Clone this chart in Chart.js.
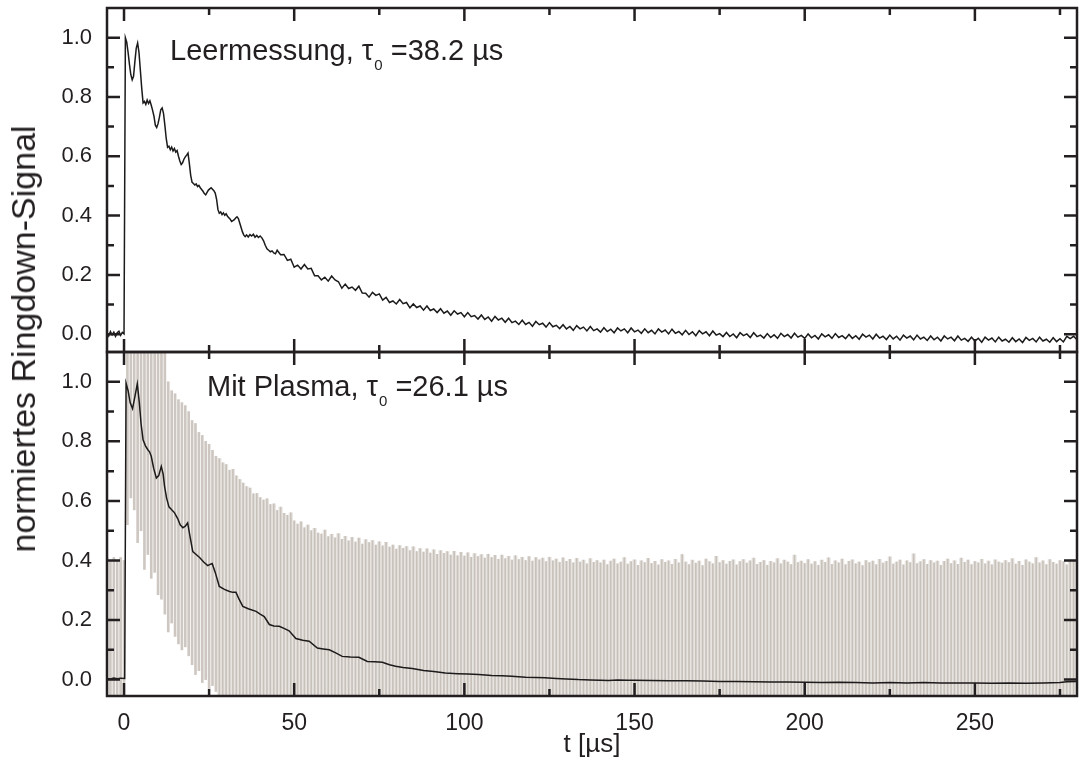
<!DOCTYPE html>
<html>
<head>
<meta charset="utf-8">
<script src="https://cdn.jsdelivr.net/npm/chart.js@4.4.1/dist/chart.umd.min.js"></script>
<style>
  body { margin: 0; background: #fff; }
  #wrap { position: relative; width: 1079px; height: 767px; }
  .note { position: absolute; font-family: 'Liberation Sans', Arial, sans-serif; font-size: 29px; line-height: 29px; color: #231f20; white-space: nowrap; }
  .sub { font-size: 15px; position: relative; top: 10px; margin-left: 1px; }
  #ytitle { position: absolute; left: 23px; top: 339px; transform: translate(-50%, -50%) rotate(-90deg); font-family: 'Liberation Sans', Arial, sans-serif; font-size: 34px; line-height: 34px; color: #231f20; white-space: nowrap; }
</style>
</head>
<body>
<div id="wrap">
  <canvas id="ringdown" width="1079" height="767"></canvas>
  <div class="note" style="left:170px; top:36px;">Leermessung, τ<span class="sub">0</span> =38.2 µs</div>
  <div class="note" style="left:207px; top:372px;">Mit Plasma, τ<span class="sub">0</span> =26.1 µs</div>
  <div id="ytitle">normiertes Ringdown-Signal</div>
</div>
<script>
// axis ticks
const xMajor = [0, 50, 100, 150, 200, 250];
const xMinor = [25, 75, 125, 175, 225, 275];
const yMajor = [0, 0.2, 0.4, 0.6, 0.8, 1.0];
const yMinor = [0.1, 0.3, 0.5, 0.7, 0.9];

// top panel: empty cavity (Leermessung)
const topEarlyTime = [-5, -4.5, -4, -3.5, -3, -2.5, -2, -1.5, -1, -0.5, 0,
  0.4, 0.8, 1.2, 1.6, 2.0, 2.4, 2.8, 3.2, 3.6, 4.0, 4.4, 4.8, 5.2, 5.6,
  6.0, 6.4, 6.8, 7.2, 7.6, 8.0, 8.4, 8.8, 9.2, 9.6, 10.0, 10.4, 10.8, 11.2, 11.6,
  12.0, 12.4, 12.8, 13.2, 13.6, 14.0, 14.4, 14.8, 15.2, 15.6, 16.0, 16.4, 16.8, 17.2, 17.6,
  18.0, 18.4, 18.8, 19.2, 19.6, 20.0, 20.4, 20.8, 21.2, 21.6, 22.0, 22.4, 22.8, 23.2, 23.6,
  24.0, 24.4, 24.8, 25.2, 25.6, 26.0, 26.4, 26.8, 27.2, 27.6, 28.0, 28.4, 28.8, 29.2, 29.6,
  30.0, 30.4, 30.8, 31.2, 31.6, 32.0, 32.4, 32.8, 33.2, 33.6, 34.0, 34.4, 34.8, 35.2, 35.6,
  36.0, 36.5, 37.0, 37.5, 38.0, 38.5, 39.0, 39.5, 40.0, 40.5, 41.0, 41.5, 42.0, 42.5, 43.0, 43.5, 44.0, 44.5];
const topEarlySignal = [0.004, -0.006, 0.009, -0.002, 0.007, -0.007, 0.005, 0.010, -0.004, 0.006, 0.001,
  1.0, 0.985, 0.95, 0.91, 0.875, 0.858, 0.87, 0.92, 0.965, 0.982, 0.95, 0.89, 0.83, 0.78,
  0.785, 0.775, 0.79, 0.778, 0.787, 0.772, 0.755, 0.735, 0.705, 0.697, 0.71, 0.732, 0.757, 0.763, 0.745,
  0.705, 0.66, 0.63, 0.634, 0.622, 0.631, 0.618, 0.626, 0.614, 0.619, 0.60, 0.584, 0.572, 0.578, 0.59,
  0.598, 0.604, 0.611, 0.575, 0.535, 0.512, 0.508, 0.503, 0.507, 0.498, 0.502, 0.494, 0.488, 0.482, 0.474,
  0.47, 0.478, 0.486, 0.49, 0.494, 0.489, 0.484, 0.476, 0.455, 0.42, 0.408, 0.412, 0.403, 0.409, 0.401,
  0.406, 0.398, 0.393, 0.388, 0.38, 0.383, 0.386, 0.392, 0.396, 0.39, 0.375, 0.36, 0.345, 0.334, 0.329,
  0.335, 0.328, 0.336, 0.331, 0.337, 0.327, 0.333, 0.326, 0.331, 0.325, 0.315, 0.30, 0.288, 0.283, 0.278, 0.281, 0.274, 0.271];
const topLateStart = 45; // one sample per µs from here on
const topLateSignal = [
  0.283, 0.268, 0.269, 0.249, 0.253, 0.226, 0.233, 0.220, 0.235, 0.220, 0.222, 0.197, 0.197, 0.183, 0.192,
  0.179, 0.196, 0.183, 0.177, 0.155, 0.169, 0.154, 0.159, 0.148, 0.162, 0.139, 0.138, 0.125, 0.141, 0.131,
  0.136, 0.115, 0.124, 0.107, 0.112, 0.102, 0.117, 0.103, 0.107, 0.089, 0.102, 0.090, 0.095, 0.081, 0.095,
  0.080, 0.085, 0.073, 0.086, 0.071, 0.078, 0.064, 0.079, 0.068, 0.073, 0.059, 0.073, 0.059, 0.063, 0.051,
  0.065, 0.050, 0.058, 0.044, 0.060, 0.048, 0.054, 0.040, 0.054, 0.039, 0.044, 0.033, 0.047, 0.033, 0.040,
  0.027, 0.043, 0.032, 0.037, 0.024, 0.039, 0.025, 0.030, 0.019, 0.032, 0.018, 0.026, 0.013, 0.029, 0.018,
  0.024, 0.011, 0.026, 0.012, 0.018, 0.007, 0.022, 0.009, 0.017, 0.005, 0.021, 0.011, 0.018, 0.005, 0.021,
  0.008, 0.014, 0.003, 0.018, 0.005, 0.013, 0.001, 0.018, 0.007, 0.014, 0.001, 0.017, 0.003, 0.009, -0.002,
  0.013, -0.001, 0.008, -0.005, 0.012, 0.001, 0.008, -0.005, 0.011, -0.003, 0.002, -0.008, 0.006, -0.008, 0.001,
  -0.012, 0.005, -0.005, 0.001, -0.011, 0.005, -0.008, -0.003, -0.013, 0.002, -0.011, -0.002, -0.014, 0.003, -0.008,
  -0.001, -0.013, 0.003, -0.010, -0.004, -0.014, 0.001, -0.012, -0.004, -0.016, 0.001, -0.009, -0.002, -0.014, 0.002,
  -0.011, -0.005, -0.015, -0.001, -0.014, -0.005, -0.017, 0.000, -0.010, -0.003, -0.016, 0.000, -0.013, -0.007, -0.018,
  -0.003, -0.016, -0.007, -0.020, -0.003, -0.013, -0.006, -0.019, -0.003, -0.016, -0.010, -0.021, -0.006, -0.019, -0.010,
  -0.023, -0.006, -0.016, -0.010, -0.022, -0.006, -0.020, -0.014, -0.024, -0.010, -0.023, -0.014, -0.027, -0.010, -0.020,
  -0.013, -0.026, -0.010, -0.023, -0.017, -0.027, -0.012, -0.025, -0.016, -0.028, -0.011, -0.021, -0.014, -0.026, -0.010,
  -0.023, -0.017, -0.027, -0.012, -0.025, -0.015, -0.026, -0.007, -0.015, -0.007, -0.019];

// bottom panel: with plasma, black = averaged ringdown
const botTime = [-5, -4, -3, -2, -1, 0.2, 0.6, 1.2, 1.8, 2.5, 3.2, 3.9, 4.5, 5.0, 5.6, 6.3, 7.0, 7.5, 8.0, 8.7,
  9.5, 10.2, 10.95, 11.5, 11.9, 12.5, 13.2, 14.0, 14.85, 15.8, 16.5, 17.3, 18.0, 18.7, 19.4, 20.2, 21.2, 22.2, 23.4, 24.6,
  25.3, 25.9, 26.8, 28.0, 29.5, 31.0, 32.0, 32.9, 33.8, 34.9, 36.5, 38.8, 40.0, 41.2, 42.7, 44.0, 45.6, 47.0, 48.5, 50.5,
  52.5, 54.4, 56.8, 58.5, 60.3, 62.2, 64.1, 66.5, 69.0, 71.5, 73.7, 75.9, 78.0, 79.8, 82.0, 84.7, 88.0, 91.0, 94.4, 98.0,
  101.0, 104.2, 108.0, 111.0, 113.9, 118.0, 121.0, 123.7, 127.0, 130.0, 133.5, 137.0, 140.0, 142.3, 145, 148, 150, 155, 160, 165,
  170, 175, 180, 185, 190, 195, 200, 205, 210, 215, 220, 225, 230, 235, 240, 245, 250, 255, 260, 265, 270, 275, 277, 280];
const botSignal = [0.004, 0.002, 0.005, 0.003, 0.005, 0.004, 0.995, 0.97, 0.93, 0.91, 0.95, 0.993, 0.93, 0.86, 0.805, 0.785, 0.772, 0.765, 0.75, 0.71,
  0.677, 0.685, 0.716, 0.69, 0.65, 0.61, 0.58, 0.57, 0.56, 0.54, 0.52, 0.51, 0.515, 0.526, 0.48, 0.43, 0.42, 0.41, 0.395, 0.383,
  0.387, 0.39, 0.36, 0.313, 0.303, 0.296, 0.293, 0.293, 0.27, 0.246, 0.238, 0.229, 0.22, 0.212, 0.185, 0.18, 0.179, 0.172, 0.164, 0.138,
  0.132, 0.129, 0.106, 0.103, 0.10, 0.09, 0.078, 0.076, 0.075, 0.061, 0.06, 0.058, 0.05, 0.045, 0.041, 0.037, 0.031, 0.027, 0.022, 0.02,
  0.019, 0.017, 0.014, 0.013, 0.011, 0.008, 0.007, 0.006, 0.004, 0.002, 0.0, -0.001, -0.002, -0.003, -0.001, -0.002, -0.002, -0.003, -0.004, -0.004,
  -0.005, -0.006, -0.006, -0.007, -0.008, -0.008, -0.009, -0.01, -0.009, -0.01, -0.011, -0.01, -0.011, -0.01, -0.011, -0.011, -0.011, -0.012, -0.011, -0.012,
  -0.011, -0.01, -0.007, -0.006];

// bottom panel: raw oscillating signal (grey), one stroke per µs
const plasmaEarlyTime = [-5, -4, -3, -2, -1, 0, 1, 2, 3, 4, 5, 6, 7, 8, 9, 10, 11, 12, 13, 14, 15, 16, 17, 18, 19, 20, 21, 22, 23, 24, 25, 26, 27];
const plasmaEarlyLow = [-0.055, -0.055, -0.055, -0.055, -0.055, -0.055, 0.52, 0.61, 0.57, 0.46, 0.50, 0.37, 0.42, 0.34, 0.36, 0.285, 0.27,
  0.22, 0.16, 0.19, 0.145, 0.12, 0.10, 0.11, 0.08, 0.05, 0.017, 0.03, -0.01, 0.0, -0.03, -0.02, -0.04];
const plasmaEarlyHigh = [0.41, 0.40, 0.41, 0.40, 0.41, 0.40, 1.1, 1.1, 1.1, 1.1, 1.1, 1.1, 1.1, 1.1, 1.1, 1.1, 1.1,
  1.1, 1.0, 0.97, 0.96, 0.94, 0.93, 0.92, 0.90, 0.87, 0.86, 0.83, 0.82, 0.80, 0.79, 0.77, 0.75];
const plasmaLateStart = 28;
const plasmaLateHigh = [
  0.742, 0.728, 0.722, 0.703, 0.706, 0.684, 0.672, 0.660, 0.648, 0.643, 0.624, 0.625, 0.611, 0.603, 0.607, 0.588, 0.590, 0.568, 0.579, 0.558,
  0.552, 0.560, 0.533, 0.522, 0.530, 0.510, 0.519, 0.500, 0.508, 0.492, 0.489, 0.502, 0.480, 0.488, 0.476, 0.490, 0.471, 0.481, 0.466, 0.478,
  0.462, 0.475, 0.455, 0.470, 0.460, 0.467, 0.452, 0.463, 0.449, 0.461, 0.445, 0.452, 0.438, 0.450, 0.441, 0.447, 0.433, 0.446, 0.430, 0.440,
  0.428, 0.439, 0.425, 0.436, 0.421, 0.433, 0.424, 0.430, 0.418, 0.431, 0.416, 0.427, 0.415, 0.426, 0.411, 0.423, 0.413, 0.420, 0.408, 0.421,
  0.410, 0.417, 0.404, 0.418, 0.406, 0.414, 0.401, 0.416, 0.403, 0.411, 0.400, 0.413, 0.398, 0.410, 0.402, 0.408, 0.396, 0.411, 0.399, 0.405,
  0.394, 0.409, 0.397, 0.404, 0.392, 0.407, 0.395, 0.401, 0.389, 0.406, 0.394, 0.400,
  0.392, 0.401, 0.386, 0.398, 0.405, 0.389, 0.395, 0.410, 0.388, 0.396, 0.402, 0.384, 0.399, 0.393, 0.407, 0.390, 0.397, 0.385, 0.403, 0.394,
  0.399, 0.387, 0.404, 0.392, 0.420, 0.395, 0.386, 0.401, 0.391, 0.398, 0.383, 0.405, 0.396, 0.389, 0.414, 0.393, 0.400, 0.388, 0.397, 0.402,
  0.385, 0.396, 0.403, 0.391, 0.399, 0.408, 0.387, 0.394, 0.400, 0.384, 0.397, 0.392, 0.406, 0.389, 0.401, 0.395, 0.386, 0.418, 0.393, 0.398,
  0.390, 0.403, 0.388, 0.396, 0.384, 0.401, 0.394, 0.409, 0.387, 0.399, 0.392, 0.405, 0.386, 0.397, 0.402, 0.389, 0.395, 0.383, 0.400, 0.393,
  0.398, 0.386, 0.404, 0.391, 0.397, 0.412, 0.388, 0.395, 0.401, 0.385, 0.399, 0.393, 0.422, 0.390, 0.396, 0.403, 0.387, 0.400, 0.392, 0.398,
  0.384, 0.397, 0.405, 0.390, 0.399, 0.387, 0.408, 0.394, 0.401, 0.386, 0.396, 0.392, 0.404, 0.389, 0.398, 0.385, 0.402, 0.395, 0.391, 0.400,
  0.393, 0.406, 0.388, 0.397, 0.384, 0.402, 0.395, 0.389, 0.410, 0.392, 0.399, 0.386, 0.403, 0.394, 0.388, 0.400, 0.396, 0.385, 0.401, 0.398];

const ink = '#231f20';
const topMin = -0.06, botMin = -0.055, yMax = 1.1;

const topPoints = topEarlyTime.map((t, i) => ({ x: t, y: topEarlySignal[i] }))
  .concat(topLateSignal.map((v, i) => ({ x: topLateStart + i, y: v })));
const botPoints = botTime.map((t, i) => ({ x: t, y: botSignal[i] }));
const earlyBars = plasmaEarlyTime.map((t, i) => ({ x: t, y: [plasmaEarlyLow[i], plasmaEarlyHigh[i]] }));
const lateBars = plasmaLateHigh.map((v, i) => ({ x: plasmaLateStart + i, y: v }));

// frame and inward ticks on all four sides of each panel
const frameTicks = {
  id: 'frameTicks',
  afterDatasetsDraw(chart) {
    const ctx = chart.ctx, xs = chart.scales.x, a = chart.chartArea;
    ctx.save();
    ctx.strokeStyle = ink;
    ctx.lineWidth = 2.5;
    ['yTop', 'yBot'].forEach(id => {
      const ys = chart.scales[id];
      ctx.strokeRect(a.left, ys.top, a.right - a.left, ys.bottom - ys.top);
      ctx.beginPath();
      xs.ticks.forEach(t => {
        const px = xs.getPixelForValue(t.value);
        const len = xMajor.includes(t.value) ? 13 : 7;
        ctx.moveTo(px, ys.top); ctx.lineTo(px, ys.top + len);
        ctx.moveTo(px, ys.bottom); ctx.lineTo(px, ys.bottom - len);
      });
      ys.ticks.forEach(t => {
        const py = ys.getPixelForValue(t.value);
        const len = yMajor.includes(t.value) ? 13 : 7;
        ctx.moveTo(a.left, py); ctx.lineTo(a.left + len, py);
        ctx.moveTo(a.right, py); ctx.lineTo(a.right - len, py);
      });
      ctx.stroke();
    });
    ctx.restore();
  }
};

function yAxis(min) {
  return {
    type: 'linear', position: 'left', stack: 'panels', stackWeight: 1, offset: false,
    min: min, max: yMax,
    grid: { display: false, drawTicks: false },
    border: { display: false },
    afterBuildTicks: s => { s.ticks = yMajor.concat(yMinor).sort((p, q) => p - q).map(v => ({ value: v })); },
    afterFit: s => { s.width = 107; s.paddingTop = 0; s.paddingBottom = 0; },
    ticks: {
      autoSkip: false, padding: 15, color: ink, font: { size: 22 },
      callback: v => yMajor.includes(v) ? v.toFixed(1) : ''
    }
  };
}

Chart.defaults.font.family = "'Liberation Sans', Arial, sans-serif";

new Chart(document.getElementById('ringdown'), {
  type: 'bar',
  data: {
    datasets: [
      { type: 'line', data: topPoints, yAxisID: 'yTop', borderColor: '#1c1a1a', borderWidth: 1.5, pointRadius: 0, tension: 0, order: 0 },
      { type: 'line', data: botPoints, yAxisID: 'yBot', borderColor: '#1c1a1a', borderWidth: 1.5, pointRadius: 0, tension: 0, order: 0 },
      { data: earlyBars, yAxisID: 'yBot', backgroundColor: '#cec7c1', barThickness: 2, grouped: false, order: 1 },
      { data: lateBars, yAxisID: 'yBot', base: botMin, backgroundColor: '#c8c1ba', barThickness: 1, grouped: false, order: 1 },
      { data: lateBars, yAxisID: 'yBot', base: botMin, backgroundColor: '#e7e4e1', barThickness: 3.5, grouped: false, order: 2 }
    ]
  },
  options: {
    responsive: false,
    animation: false,
    events: [],
    layout: { padding: { top: 8, right: 2, left: 0, bottom: 0 } },
    plugins: { legend: { display: false }, tooltip: { enabled: false } },
    scales: {
      x: {
        type: 'linear', position: 'bottom', offset: false, min: -5, max: 280,
        grid: { display: false, drawTicks: false },
        border: { display: false },
        afterBuildTicks: s => { s.ticks = xMajor.concat(xMinor).sort((p, q) => p - q).map(v => ({ value: v })); },
        afterFit: s => { s.height = 71; s.paddingLeft = 0; s.paddingRight = 0; },
        ticks: { autoSkip: false, maxRotation: 0, padding: 14, color: ink, font: { size: 23 },
          callback: v => xMajor.includes(v) ? String(v) : '' },
        title: { display: true, text: 't [µs]', color: ink, font: { size: 26 }, padding: { top: 0, bottom: 7 } }
      },
      // stacked panels: the later-listed axis is placed on top
      yBot: yAxis(botMin),
      yTop: yAxis(topMin)
    }
  },
  plugins: [frameTicks]
});
</script>
</body>
</html>
